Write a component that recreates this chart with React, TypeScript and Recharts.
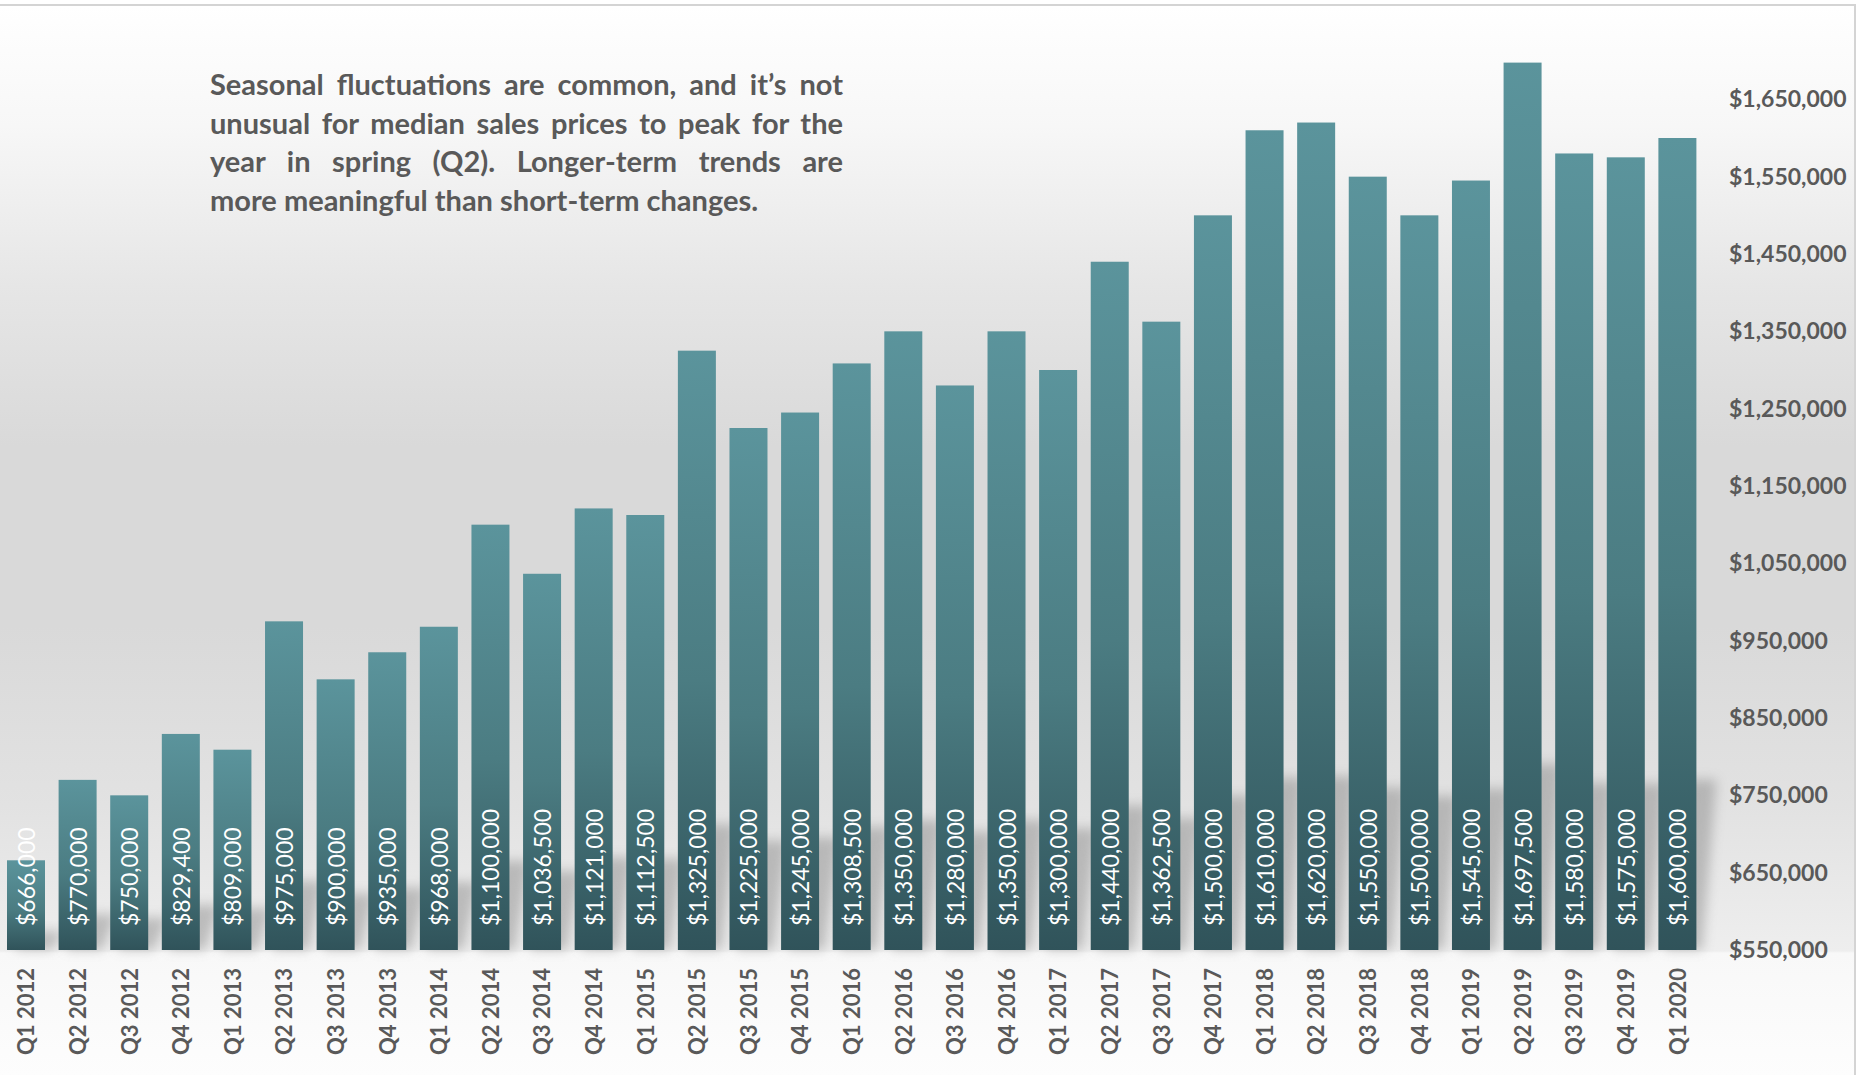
import { BarChart, Bar, XAxis, YAxis, LabelList } from 'recharts';

const quarters = [
  'Q1 2012', 'Q2 2012', 'Q3 2012', 'Q4 2012',
  'Q1 2013', 'Q2 2013', 'Q3 2013', 'Q4 2013',
  'Q1 2014', 'Q2 2014', 'Q3 2014', 'Q4 2014',
  'Q1 2015', 'Q2 2015', 'Q3 2015', 'Q4 2015',
  'Q1 2016', 'Q2 2016', 'Q3 2016', 'Q4 2016',
  'Q1 2017', 'Q2 2017', 'Q3 2017', 'Q4 2017',
  'Q1 2018', 'Q2 2018', 'Q3 2018', 'Q4 2018',
  'Q1 2019', 'Q2 2019', 'Q3 2019', 'Q4 2019',
  'Q1 2020',
];

const medianPrices = [
  666000, 770000, 750000, 829400,
  809000, 975000, 900000, 935000,
  968000, 1100000, 1036500, 1121000,
  1112500, 1325000, 1225000, 1245000,
  1308500, 1350000, 1280000, 1350000,
  1300000, 1440000, 1362500, 1500000,
  1610000, 1620000, 1550000, 1500000,
  1545000, 1697500, 1580000, 1575000,
  1600000,
];

const priceTicks = [
  550000, 650000, 750000, 850000, 950000, 1050000,
  1150000, 1250000, 1350000, 1450000, 1550000, 1650000,
];

const noteLines = [
  'Seasonal fluctuations are common, and it\u2019s not',
  'unusual for median sales prices to peak for the',
  'year in spring (Q2). Longer-term trends are',
  'more meaningful than short-term changes.',
];

const data = quarters.map((q, i) => ({ quarter: q, price: medianPrices[i] }));

const money = (v: number) => '$' + v.toLocaleString('en-US');

const FONT = 'Lato, "Open Sans", sans-serif';
const GREY = '#595959';

const QuarterTick = (props: any) => {
  const { x, y, payload } = props;
  return (
    <text
      x={x}
      y={y}
      transform={`rotate(-90, ${x}, ${y})`}
      textAnchor="end"
      dominantBaseline="central"
      fill={GREY}
      fontSize={22}
      fontWeight={700}
      fontFamily={FONT}
    >
      {payload.value}
    </text>
  );
};

// bar plus a soft slanted shadow behind it, like the office chart effect
const ShadowedBar = (props: any) => {
  const { x, y, width, height } = props;
  const base = y + height;
  const lift = height * 0.21;
  const slant = 20;
  return (
    <g>
      <polygon
        points={`${x + 6},${base} ${x + width + 6},${base} ${x + width + slant},${base - lift} ${x + slant},${base - lift}`}
        fill="#7a7a7a"
        opacity={0.42}
        filter="url(#soften)"
      />
      <rect x={x} y={y} width={width} height={height} fill="url(#barFade)" />
    </g>
  );
};

const PriceLabel = (props: any) => {
  const { x, y, width, height, value } = props;
  const cx = x + width / 2;
  const cy = y + height - 24;
  return (
    <text
      x={cx}
      y={cy}
      transform={`rotate(-90, ${cx}, ${cy})`}
      textAnchor="start"
      dominantBaseline="central"
      fill="#ffffff"
      fontSize={23}
      fontFamily={FONT}
    >
      {money(value)}
    </text>
  );
};

export default function App() {
  return (
    <div style={{ position: 'absolute', left: 0, top: 0, width: 1862, height: 1075, background: '#ffffff', overflow: 'hidden' }}>
      <div
        style={{
          position: 'absolute',
          left: 0,
          top: 4,
          width: 1856,
          height: 1071,
          boxSizing: 'border-box',
          borderTop: '2px solid #d4d4d4',
          borderRight: '2px solid #d4d4d4',
          background:
            'linear-gradient(to bottom, #ffffff 0px, #f7f7f7 120px, #e6e6e6 280px, #d9d9d9 440px, #d9d9d9 620px, #e2e2e2 800px, #eeeeee 945px, #f8f8f8 947px, #fdfdfd 1071px)',
        }}
      />
      <div style={{ position: 'absolute', left: 0, top: 0 }}>
        <BarChart
          width={1862}
          height={1075}
          data={data}
          margin={{ top: 22, right: 9, bottom: 0, left: 0 }}
        >
          <defs>
            <linearGradient id="barFade" x1="0" y1="0" x2="0" y2="1">
              <stop offset="0%" stopColor="#5b949c" />
              <stop offset="55%" stopColor="#4b7c82" />
              <stop offset="100%" stopColor="#30535a" />
            </linearGradient>
            <filter id="soften" x="-50%" y="-50%" width="200%" height="200%">
              <feGaussianBlur stdDeviation="6" />
            </filter>
          </defs>
          <XAxis
            dataKey="quarter"
            interval={0}
            height={125}
            axisLine={false}
            tickLine={false}
            tickMargin={12}
            tick={<QuarterTick />}
          />
          <YAxis
            orientation="right"
            domain={[550000, 1750000]}
            ticks={priceTicks}
            tickFormatter={money}
            axisLine={false}
            tickLine={false}
            tickMargin={20}
            width={150}
            tick={{ fill: GREY, fontSize: 23, fontWeight: 700, fontFamily: FONT }}
          />
          <Bar dataKey="price" barSize={38} shape={<ShadowedBar />} isAnimationActive={false}>
            <LabelList dataKey="price" content={<PriceLabel />} />
          </Bar>
        </BarChart>
      </div>
      <div
        style={{
          position: 'absolute',
          left: 210,
          top: 65,
          width: 633,
          fontFamily: FONT,
          fontWeight: 700,
          fontSize: 29,
          lineHeight: '38.5px',
          color: GREY,
        }}
      >
        {noteLines.map((line, i) => (
          <div
            key={i}
            style={{
              textAlign: 'justify',
              textAlignLast: i < noteLines.length - 1 ? 'justify' : 'left',
              whiteSpace: 'nowrap',
            }}
          >
            {line}
          </div>
        ))}
      </div>
    </div>
  );
}
